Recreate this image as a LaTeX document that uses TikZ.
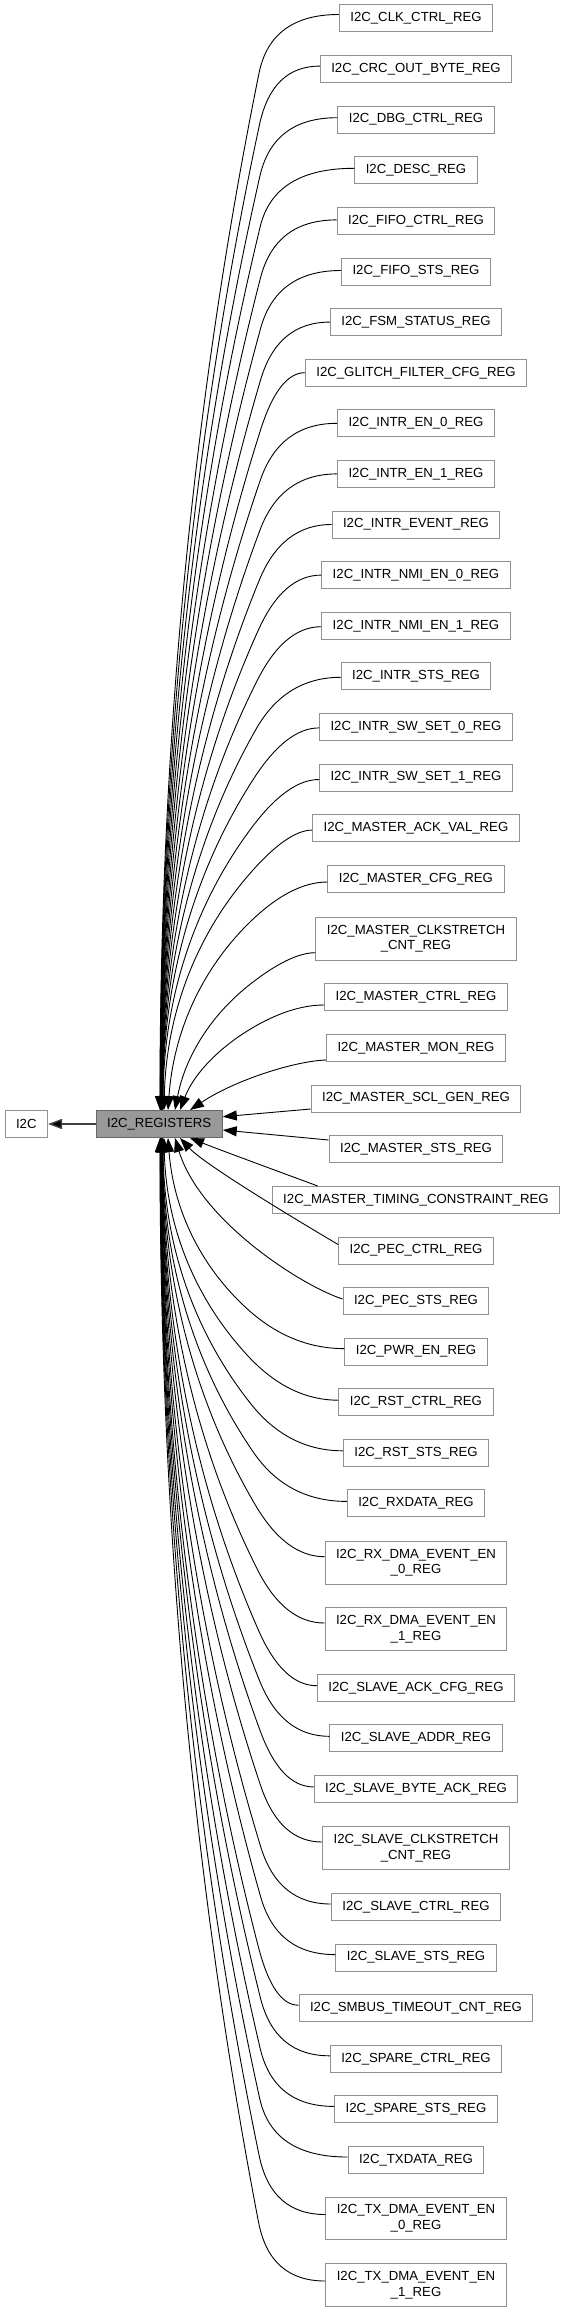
\documentclass[tikz,border=0pt]{standalone}
\usepackage{fontspec}
\setmainfont{Liberation Sans}
\usetikzlibrary{calc,arrows.meta}
\definecolor{boxline}{HTML}{909090}
\definecolor{regfill}{HTML}{999999}
\definecolor{regline}{HTML}{666666}
\definecolor{i2ccol}{HTML}{404040}
\newdimen\rgx
\newdimen\rgy
\tikzset{
  regbox/.style={draw=boxline, line width=1pt, fill=white, inner xsep=11pt, inner ysep=0pt,
    minimum height=27pt, font=\fontsize{13.2}{15.7}\selectfont, text=black},
  regboxtwo/.style={regbox, align=center, minimum height=42.7pt},
  fanline/.style={line width=0.9pt, draw=black, -{Triangle[length=14pt,width=10pt]}},
  i2cline/.style={line width=1.4pt, draw=i2ccol, -{Triangle[length=14pt,width=10pt,fill=black]}},
}
% #1 node, #2 start dy, #3 target x, #4 anchor of reg, #5 offset of control x
\newcommand\fanedge[5]{%
  \coordinate (W) at ($(#1.west)+(0,#2)$);
  \coordinate (T) at (#3,0 |- reg.#4);
  \pgfextractx{\rgx}{\pgfpointanchor{W}{center}}%
  \pgfextracty{\rgy}{\pgfpointanchor{W}{center}}%
  \pgfmathsetmacro\fwx{\rgx}%
  \pgfmathsetmacro\fwy{\rgy}%
  \pgfextracty{\rgy}{\pgfpointanchor{T}{center}}%
  \pgfmathsetmacro\fty{\rgy}%
  \pgfmathsetmacro\fdy{abs(\fwy-\fty)}%
  \pgfmathsetmacro\fxk{min(295-0.022*\fdy,\fwx-25)}%
  \pgfmathsetmacro\fqx{#3+#5}%
  \pgfmathsetmacro\fqy{0.5*(\fwy+\fty)}%
  \pgfmathsetmacro\fdist{veclen(\fqx-\fxk,\fqy-\fwy)}%
  \pgfmathsetmacro\frr{min(60,0.4*\fdist)}%
  \coordinate (K) at (\fxk pt,\fwy pt);
  \coordinate (Q) at (\fqx pt,\fqy pt);
  \coordinate (M) at ($(K)!\frr pt!(Q)$);
  \draw[fanline] (W) .. controls ($(W)!0.667!(K)$) and ($(M)!0.667!(K)$) .. (M)
     .. controls ($(M)!0.667!(Q)$) and ($(T)!0.667!(Q)$) .. (T);
}
\begin{document}
\begin{tikzpicture}[x=1pt,y=-1pt]
\fill[white] (0,0) rectangle (567,2312);
\useasboundingbox (0,0) rectangle (567,2312);

\node[regbox, fill=regfill, draw=regline] (reg) at (159.2,1124) {I2C\_REGISTERS};
\node[regbox] (i2c) at (26.3,1124) {I2C};
\draw[i2cline] (reg) -- (i2c);

\node[regbox] (clk) at (416,18.5) {I2C\_CLK\_CTRL\_REG};
\node[regbox] (crc) at (416,69.1) {I2C\_CRC\_OUT\_BYTE\_REG};
\node[regbox] (dbg) at (416,119.7) {I2C\_DBG\_CTRL\_REG};
\node[regbox] (desc) at (416,170.3) {I2C\_DESC\_REG};
\node[regbox] (fifoc) at (416,220.9) {I2C\_FIFO\_CTRL\_REG};
\node[regbox] (fifos) at (416,271.5) {I2C\_FIFO\_STS\_REG};
\node[regbox] (fsm) at (416,322.1) {I2C\_FSM\_STATUS\_REG};
\node[regbox] (glitch) at (416,372.7) {I2C\_GLITCH\_FILTER\_CFG\_REG};
\node[regbox] (ien0) at (416,423.3) {I2C\_INTR\_EN\_0\_REG};
\node[regbox] (ien1) at (416,473.9) {I2C\_INTR\_EN\_1\_REG};
\node[regbox] (iev) at (416,524.5) {I2C\_INTR\_EVENT\_REG};
\node[regbox] (nmi0) at (416,575.1) {I2C\_INTR\_NMI\_EN\_0\_REG};
\node[regbox] (nmi1) at (416,625.7) {I2C\_INTR\_NMI\_EN\_1\_REG};
\node[regbox] (ists) at (416,676.3) {I2C\_INTR\_STS\_REG};
\node[regbox] (sw0) at (416,726.9) {I2C\_INTR\_SW\_SET\_0\_REG};
\node[regbox] (sw1) at (416,777.5) {I2C\_INTR\_SW\_SET\_1\_REG};
\node[regbox] (mack) at (416,828.1) {I2C\_MASTER\_ACK\_VAL\_REG};
\node[regbox] (mcfg) at (416,879) {I2C\_MASTER\_CFG\_REG};
\node[regboxtwo] (mclk) at (416,938.7) {I2C\_MASTER\_CLKSTRETCH\\\_CNT\_REG};
\node[regbox] (mctrl) at (416,997) {I2C\_MASTER\_CTRL\_REG};
\node[regbox] (mmon) at (416,1048) {I2C\_MASTER\_MON\_REG};
\node[regbox] (mscl) at (416,1098.5) {I2C\_MASTER\_SCL\_GEN\_REG};
\node[regbox] (msts) at (416,1149) {I2C\_MASTER\_STS\_REG};
\node[regbox] (mtim) at (416,1200) {I2C\_MASTER\_TIMING\_CONSTRAINT\_REG};
\node[regbox] (pecc) at (416,1250.5) {I2C\_PEC\_CTRL\_REG};
\node[regbox] (pecs) at (416,1301) {I2C\_PEC\_STS\_REG};
\node[regbox] (pwr) at (416,1351.6) {I2C\_PWR\_EN\_REG};
\node[regbox] (rstc) at (416,1402.2) {I2C\_RST\_CTRL\_REG};
\node[regbox] (rsts) at (416,1452.8) {I2C\_RST\_STS\_REG};
\node[regbox] (rxd) at (416,1503.4) {I2C\_RXDATA\_REG};
\node[regboxtwo] (rxd0) at (416,1562.7) {I2C\_RX\_DMA\_EVENT\_EN\\\_0\_REG};
\node[regboxtwo] (rxd1) at (416,1629) {I2C\_RX\_DMA\_EVENT\_EN\\\_1\_REG};
\node[regbox] (sack) at (416,1687.7) {I2C\_SLAVE\_ACK\_CFG\_REG};
\node[regbox] (sadr) at (416,1738.3) {I2C\_SLAVE\_ADDR\_REG};
\node[regbox] (sbyte) at (416,1788.9) {I2C\_SLAVE\_BYTE\_ACK\_REG};
\node[regboxtwo] (sclk) at (416,1848) {I2C\_SLAVE\_CLKSTRETCH\\\_CNT\_REG};
\node[regbox] (sctrl) at (416,1907) {I2C\_SLAVE\_CTRL\_REG};
\node[regbox] (ssts) at (416,1957.6) {I2C\_SLAVE\_STS\_REG};
\node[regbox] (smb) at (416,2008.2) {I2C\_SMBUS\_TIMEOUT\_CNT\_REG};
\node[regbox] (spc) at (416,2058.8) {I2C\_SPARE\_CTRL\_REG};
\node[regbox] (sps) at (416,2109.4) {I2C\_SPARE\_STS\_REG};
\node[regbox] (txd) at (416,2160) {I2C\_TXDATA\_REG};
\node[regboxtwo] (txd0) at (416,2218.5) {I2C\_TX\_DMA\_EVENT\_EN\\\_0\_REG};
\node[regboxtwo] (txd1) at (416,2285) {I2C\_TX\_DMA\_EVENT\_EN\\\_1\_REG};

% upper fan
\fanedge{clk}{-4}{160.0}{north}{0}
\fanedge{crc}{-3}{160.2}{north}{0}
\fanedge{dbg}{-2}{160.4}{north}{0}
\fanedge{desc}{-2}{160.6}{north}{0}
\fanedge{fifoc}{-1}{160.8}{north}{0}
\fanedge{fifos}{-1}{161.0}{north}{0}
\fanedge{fsm}{0}{161.2}{north}{0}
\fanedge{glitch}{0}{161.4}{north}{0}
\fanedge{ien0}{0}{161.6}{north}{0}
\fanedge{ien1}{0}{161.8}{north}{0}
\fanedge{iev}{0}{162.0}{north}{0}
\fanedge{nmi0}{0}{162.2}{north}{0}
\fanedge{nmi1}{1}{162.4}{north}{0}
\fanedge{ists}{1}{162.6}{north}{0}
\fanedge{sw0}{1}{162.8}{north}{0}
\fanedge{sw1}{2}{163.0}{north}{1}
\fanedge{mack}{2}{164}{north}{3}
\fanedge{mcfg}{3}{168}{north}{8}
\fanedge{mclk}{14}{175}{north}{15}
\fanedge{mctrl}{8}{180}{north}{20}
\coordinate (monT) at (190,0 |- reg.north);
\draw[fanline] ($(mmon.west)+(0,12)$) .. controls (295,1061) and (235,1080) .. (monT);

% right side
\draw[fanline] ($(mscl.west)+(0,10.5)$) -- ($(reg.east)+(0,-7.3)$);
\draw[fanline] ($(msts.west)+(0,-9)$) -- ($(reg.east)+(0,6)$);

% lower fan
\coordinate (timT) at (190,0 |- reg.south);
\draw[fanline] ($(mtim.north west)+(46,0)$) .. controls (280,1172) and (220,1150) .. (timT);
\coordinate (peccT) at (180,0 |- reg.south);
\draw[fanline] ($(pecc.west)+(0,-6)$) .. controls (300,1222) and (205,1165) .. (peccT);
\coordinate (pecsT) at (175,0 |- reg.south);
\draw[fanline] ($(pecs.west)+(0,-2)$) .. controls (300,1285) and (200,1220) .. (pecsT);
\fanedge{pwr}{-3}{168}{south}{8}
\fanedge{rstc}{-2}{164}{south}{3}
\fanedge{rsts}{-2}{163.0}{south}{1}
\fanedge{rxd}{-2}{162.8}{south}{0}
\fanedge{rxd0}{-6}{162.6}{south}{0}
\fanedge{rxd1}{-6}{162.4}{south}{0}
\fanedge{sack}{-2}{162.2}{south}{0}
\fanedge{sadr}{-2}{162.0}{south}{0}
\fanedge{sbyte}{-2}{161.8}{south}{0}
\fanedge{sclk}{-6}{161.6}{south}{0}
\fanedge{sctrl}{-3}{161.4}{south}{0}
\fanedge{ssts}{-3}{161.2}{south}{0}
\fanedge{smb}{-3}{161.0}{south}{0}
\fanedge{spc}{-3}{160.8}{south}{0}
\fanedge{sps}{-3}{160.6}{south}{0}
\fanedge{txd}{-3}{160.4}{south}{0}
\fanedge{txd0}{-4}{160.2}{south}{0}
\fanedge{txd1}{-4}{160.0}{south}{0}
\end{tikzpicture}
\end{document}
